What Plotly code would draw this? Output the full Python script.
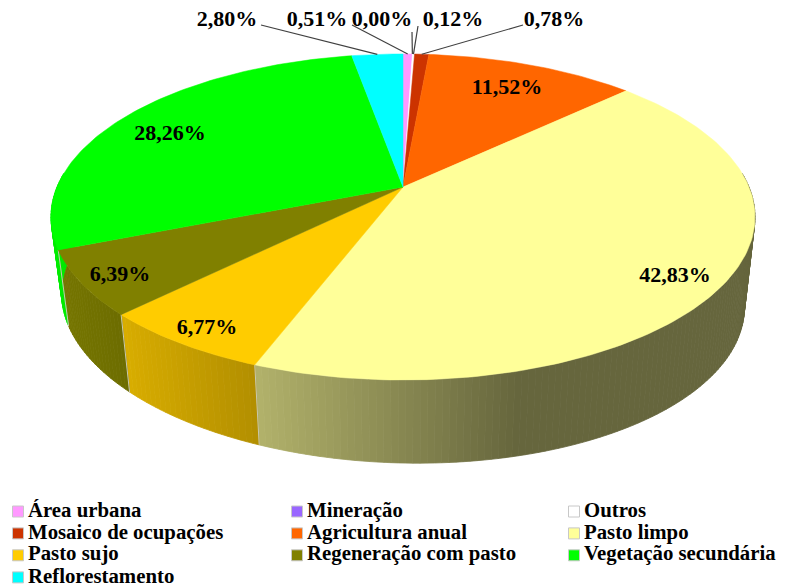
import math
import plotly.graph_objects as go

# ---- data ----
categories = ["Área urbana", "Mineração", "Outros", "Mosaico de ocupações", "Agricultura anual",
              "Pasto limpo", "Pasto sujo", "Regeneração com pasto", "Vegetação secundária", "Reflorestamento"]
values = [0.51, 0.00, 0.12, 0.78, 11.52, 42.83, 6.77, 6.39, 28.26, 2.80]
labels = ["0,51%", "0,00%", "0,12%", "0,78%", "11,52%", "42,83%", "6,77%", "6,39%", "28,26%", "2,80%"]
colors = ["#FF99FF", "#9966FF", "#FFFFFF", "#CC3300", "#FF6600",
          "#FFFF99", "#FFCC00", "#808000", "#00FF00", "#00FFFF"]

# ---- layout of the drawing (pixel-like axis units) ----
CX, CY = 403, 187          # apex of the pie
A, B, K = 346, 157.5, 0.184  # perspective projection of the top disc
SC, Y0, TILT = 0.97, 270, 0.02  # bottom disc relative to the top disc
label_pos = [(317, 20), (382, 20), (453, 20), (554, 20), (507, 88),
             (675, 276), (207, 328), (120, 275), (170, 134), (227, 20)]
leader_start = {0: (352, 25), 1: (412, 32), 2: (418, 26), 3: (523, 25), 9: (261, 25)}
legend_cols = [18, 297, 574]
legend_text_offset = 10
legend_rows = [511.5, 533.4, 555.3, 577.4]
FONT = "Liberation Serif"


def top(theta):
    u, v = math.sin(theta), math.cos(theta)
    w = 1 + K * v
    return CX + A * u / w, CY - B * v / w


def bottom(theta):
    x, y = top(theta)
    return CX + SC * (x - CX), Y0 + (y - CY) + TILT * (x - CX)


def shade(hex_color, x):
    f = min(1.0, max(0.4, 0.985 - 0.00113 * x))
    r, g, b = (int(hex_color[i:i + 2], 16) for i in (1, 3, 5))
    return f"rgb({r * f:.0f},{g * f:.0f},{b * f:.0f})"


total = sum(values)
edges = [0.0]
for val in values:
    edges.append(edges[-1] + val / total * 2 * math.pi)

fig = go.Figure()
SIDE_MIN, SIDE_MAX = math.radians(85), math.radians(275)

# sides, as thin strips so the shading varies along the rim
for i, col in enumerate(colors):
    a0, a1 = max(edges[i], SIDE_MIN), min(edges[i + 1], SIDE_MAX)
    if a1 <= a0:
        continue
    n = max(1, int((a1 - a0) / math.radians(1.0)))
    for j in range(n):
        t0, t1 = a0 + (a1 - a0) * j / n, a0 + (a1 - a0) * (j + 1) / n
        pts = [top(t0), top(t1), bottom(t1), bottom(t0), top(t0)]
        c = shade(col, (pts[0][0] + pts[1][0]) / 2)
        fig.add_trace(go.Scatter(x=[p[0] for p in pts], y=[p[1] for p in pts], mode="lines",
                                 fill="toself", fillcolor=c, line=dict(color=c, width=0.8),
                                 hoverinfo="skip", showlegend=False))
    # light vertical seam at the slice boundary
    if SIDE_MIN < edges[i] < SIDE_MAX:
        p, q = top(edges[i]), bottom(edges[i])
        fig.add_trace(go.Scatter(x=[p[0], q[0]], y=[p[1], q[1]], mode="lines",
                                 line=dict(color="#C8C8B0", width=1), hoverinfo="skip", showlegend=False))

# top faces
for i, col in enumerate(colors):
    if values[i] == 0:
        continue
    n = max(2, int((edges[i + 1] - edges[i]) / math.radians(1)))
    pts = [(CX, CY)] + [top(edges[i] + (edges[i + 1] - edges[i]) * j / n) for j in range(n + 1)] + [(CX, CY)]
    fig.add_trace(go.Scatter(x=[p[0] for p in pts], y=[p[1] for p in pts], mode="lines", fill="toself",
                             fillcolor=col, line=dict(color=col, width=0.5), name=categories[i],
                             hoverinfo="name", showlegend=False))

# leader lines
for i, start in leader_start.items():
    mid = (edges[i] + edges[i + 1]) / 2
    end = top(mid)
    fig.add_trace(go.Scatter(x=[start[0], end[0]], y=[start[1], end[1]], mode="lines",
                             line=dict(color="#404040", width=1.2), hoverinfo="skip", showlegend=False))

# value labels
fig.add_trace(go.Scatter(x=[p[0] for p in label_pos], y=[p[1] for p in label_pos], mode="text", text=labels,
                         textposition="middle center", hoverinfo="skip", showlegend=False,
                         textfont=dict(family=FONT, size=22, color="#000000", weight="bold")))

# legend entries, three columns filled row by row
for i, name in enumerate(categories):
    x, y = legend_cols[i % 3], legend_rows[i // 3]
    fig.add_trace(go.Scatter(x=[x], y=[y], mode="markers", name=name, showlegend=False, hoverinfo="skip",
                             marker=dict(symbol="square", size=11, color=colors[i],
                                         line=dict(color="#C8C8C8", width=1))))
    fig.add_trace(go.Scatter(x=[x + legend_text_offset], y=[y], mode="text", text=[name],
                             textposition="middle right", showlegend=False, hoverinfo="skip",
                             textfont=dict(family=FONT, size=20.8, color="#000000", weight="bold")))

fig.update_layout(width=788, height=587, margin=dict(l=0, r=0, t=0, b=0),
                  paper_bgcolor="white", plot_bgcolor="white", showlegend=False,
                  xaxis=dict(range=[0, 788], visible=False, fixedrange=True),
                  yaxis=dict(range=[587, 0], visible=False, fixedrange=True))
fig.write_html("out.html", config=dict(displayModeBar=False),
               post_script="document.body.style.margin='0';document.documentElement.style.overflow='hidden';")
